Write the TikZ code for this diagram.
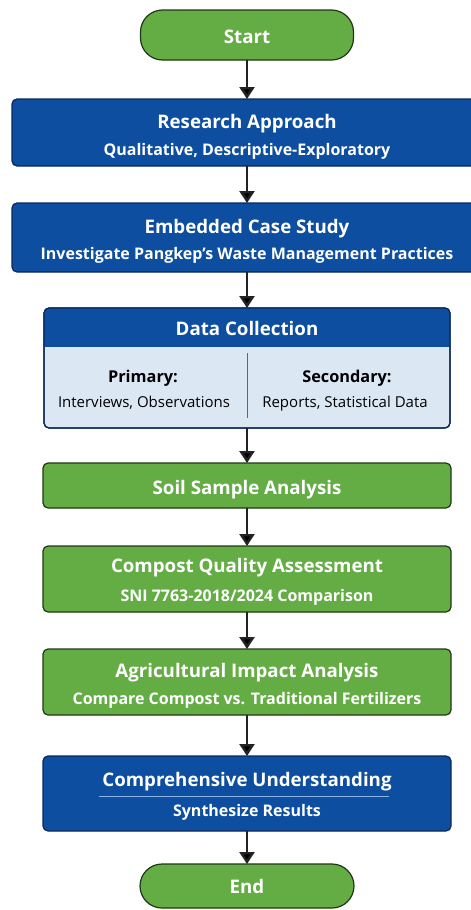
\documentclass[tikz,border=0pt]{standalone}
\usepackage{fontspec}
\setmainfont{Open Sans}
\usetikzlibrary{arrows.meta}
\definecolor{boxblue}{RGB}{14,78,160}
\definecolor{blueline}{RGB}{10,40,90}
\definecolor{boxgreen}{RGB}{100,173,69}
\definecolor{greenline}{RGB}{30,55,20}
\definecolor{paleblue}{RGB}{220,231,244}
\definecolor{rulecolor}{RGB}{140,180,230}
\definecolor{arrowgray}{RGB}{35,35,35}
\begin{document}
\begin{tikzpicture}[x=1pt,y=-1pt]
			\tikzstyle{flow} = [-{Triangle[width=15pt,length=12pt]}, line width=2.4pt, draw=arrowgray]
			\tikzstyle{bluebox} = [rectangle, rounded corners=5pt, fill=boxblue, draw=blueline, line width=1.2pt, inner sep=0, outer sep=0]
			\tikzstyle{greenbox} = [rectangle, rounded corners=5pt, fill=boxgreen, draw=greenline, line width=1.2pt, inner sep=0, outer sep=0]
			\tikzstyle{terminal} = [greenbox, rounded corners=22pt]
			\tikzstyle{ttl} = [text=white, font=\fontsize{18.7}{22}\selectfont\bfseries, anchor=base, inner sep=0]
			\tikzstyle{sub} = [text=white, font=\fontsize{16}{19}\selectfont\bfseries, anchor=base, inner sep=0]
			\tikzstyle{item} = [text=black, font=\fontsize{15}{18}\selectfont, anchor=base, inner sep=0]
			\tikzstyle{itemhead} = [text=black, font=\fontsize{16.3}{19}\selectfont\bfseries, anchor=base, inner sep=0]
			\useasboundingbox (0,0) rectangle (471,910);
			% boxes
			\node [terminal, minimum width=213pt, minimum height=50pt] (v1) at (247,35) {};
			\node [bluebox, minimum width=470pt, minimum height=67pt] (v2) at (247,132.5) {};
			\node [bluebox, minimum width=470pt, minimum height=69pt] (v3) at (247,237.5) {};
			\node [bluebox, fill=paleblue, minimum width=406pt, minimum height=120pt] (v4) at (247,368) {};
			\node [greenbox, minimum width=408pt, minimum height=45pt] (v5) at (247,485.5) {};
			\node [greenbox, minimum width=408pt, minimum height=66pt] (v6) at (247,579) {};
			\node [greenbox, minimum width=408pt, minimum height=66pt] (v7) at (247,682) {};
			\node [bluebox, minimum width=408pt, minimum height=75pt] (v8) at (247,793.5) {};
			\node [terminal, minimum width=214pt, minimum height=44pt] (v9) at (247,886) {};
			% header band of the data box
			\begin{scope}
			\clip [rounded corners=5pt] (v4.north west) rectangle (v4.south east);
			\fill [boxblue] (v4.north west) rectangle (v4.east |- 0,347);
			\end{scope}
			\draw [blueline, line width=1.2pt, rounded corners=5pt] (v4.north west) rectangle (v4.south east);
			\draw [black!60, line width=0.8pt] (247,353) -- (247,418);
			% texts
			\node [ttl] (t1) at (247,43) {Start};
			\node [ttl] (t2) at (247,128) {Research Approach};
			\node [sub] (s2) at (247,155) {Qualitative, Descriptive-Exploratory};
			\node [ttl] (t3) at (247,233) {Embedded Case Study};
			\node [sub] (s3) at (247,259) {Investigate Pangkep's Waste Management Practices};
			\node [ttl] (t4) at (247,335) {Data Collection};
			\node [itemhead] (h4a) at (143,382) {Primary:};
			\node [item] (i4a) at (144,407) {Interviews, Observations};
			\node [itemhead] (h4b) at (347,382) {Secondary:};
			\node [item] (i4b) at (345,407) {Reports, Statistical Data};
			\node [ttl] (t5) at (247,494) {Soil Sample Analysis};
			\node [ttl] (t6) at (247,572) {Compost Quality Assessment};
			\node [sub] (s6) at (247,601) {SNI 7763-2018/2024 Comparison};
			\node [ttl] (t7) at (247,677) {Agricultural Impact Analysis};
			\node [sub] (s7) at (247,704) {Compare Compost vs. Traditional Fertilizers};
			\node [ttl] (t8) at (247,786) {Comprehensive Understanding};
			\draw [rulecolor, line width=1pt] (99,796) -- (389,796);
			\node [sub] (s8) at (247,816) {Synthesize Results};
			\node [ttl] (t9) at (247,893) {End};
			% arrows
			\draw [flow] (v1) edge (v2);
			\draw [flow] (v2) edge (v3);
			\draw [flow] (v3) edge (v4);
			\draw [flow] (v4) edge (v5);
			\draw [flow] (v5) edge (v6);
			\draw [flow] (v6) edge (v7);
			\draw [flow] (v7) edge (v8);
			\draw [flow] (v8) edge (v9);
\end{tikzpicture}
\end{document}
